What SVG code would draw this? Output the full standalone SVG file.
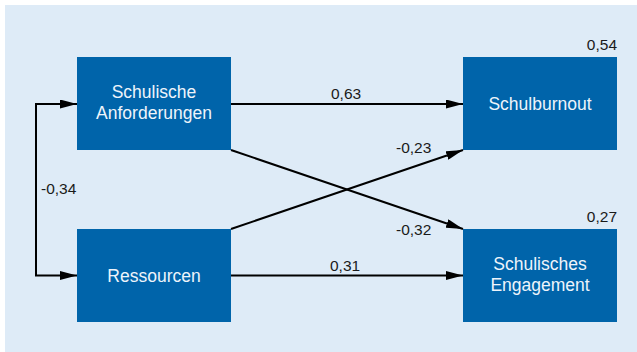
<svg xmlns="http://www.w3.org/2000/svg" width="637" height="352" viewBox="0 0 637 352">
<style>
.bg{fill:#deebf7}
.box{fill:#0064aa}
.nt{font-family:"Liberation Sans",Arial,sans-serif;font-size:17.5px;fill:#eef4fb;text-anchor:middle}
.lbl{font-family:"Liberation Sans",Arial,sans-serif;font-size:15.5px;fill:#1a1a1a}
.c{stroke:#000;stroke-width:2;fill:none}
</style>
<defs>
<marker id="ah" markerUnits="userSpaceOnUse" markerWidth="17" markerHeight="9" refX="17" refY="4.5" orient="auto-start-reverse">
<path d="M0,0 L17,4.5 L0,9 z" fill="#000"/>
</marker>
</defs>
<rect class="bg" x="5" y="5" width="632" height="347"/>
<g id="connectors">
<path class="c" d="M77,104 H36 V275.5 H77" marker-start="url(#ah)" marker-end="url(#ah)"/>
<line class="c" x1="231" y1="104" x2="463" y2="104" marker-end="url(#ah)"/>
<line class="c" x1="231" y1="150" x2="463" y2="229" marker-end="url(#ah)"/>
<line class="c" x1="231" y1="229" x2="463" y2="150" marker-end="url(#ah)"/>
<line class="c" x1="231" y1="275.5" x2="463" y2="275.5" marker-end="url(#ah)"/>
<text class="lbl" x="41" y="194">-0,34</text>
<text class="lbl" x="331" y="99">0,63</text>
<text class="lbl" x="396" y="153">-0,23</text>
<text class="lbl" x="396" y="235">-0,32</text>
<text class="lbl" x="330" y="271">0,31</text>
</g>
<g id="n1">
<rect class="box" x="77" y="57" width="154" height="93"/>
<text class="nt" x="154" y="98">Schulische</text>
<text class="nt" x="154" y="119">Anforderungen</text>
</g>
<g id="n2">
<rect class="box" x="77" y="229" width="154" height="93"/>
<text class="nt" x="154" y="281.5">Ressourcen</text>
</g>
<g id="n3">
<rect class="box" x="463" y="57" width="154" height="93"/>
<text class="nt" x="540" y="109.5">Schulburnout</text>
<text class="lbl" x="617" y="50" text-anchor="end">0,54</text>
</g>
<g id="n4">
<rect class="box" x="463" y="229" width="154" height="93"/>
<text class="nt" x="540" y="270">Schulisches</text>
<text class="nt" x="540" y="291">Engagement</text>
<text class="lbl" x="617" y="222" text-anchor="end">0,27</text>
</g>
</svg>
